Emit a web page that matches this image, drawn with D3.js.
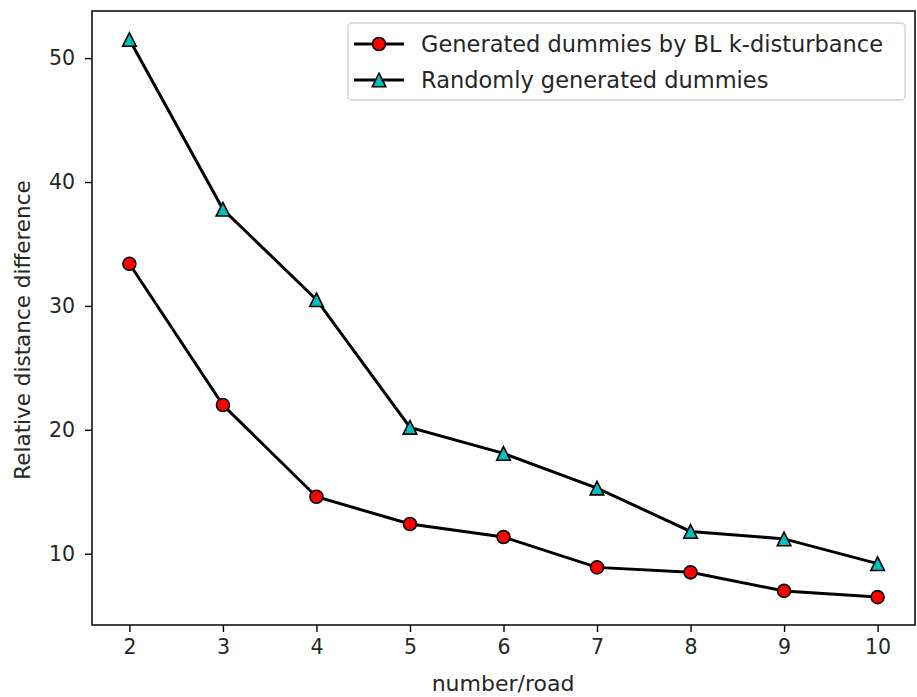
<!DOCTYPE html>
<meta charset="utf-8">
<head>
  <title>Relative distance difference</title>
</head>
<style>
body { margin: 0; background: #fff; }
text {
  font-family: "DejaVu Sans", sans-serif;
  fill: #262626;
}
.axis text { font-size: 20.5px; fill: #262626; }
.axis path, .axis line { stroke: #000; stroke-width: 1.4px; }
</style>
<body>
<svg width="917" height="697"></svg>
<script src="https://cdnjs.cloudflare.com/ajax/libs/d3/7.8.5/d3.min.js"></script>
<script>
var roads = [2, 3, 4, 5, 6, 7, 8, 9, 10]
var blValues = [33.4, 22.0, 14.6, 12.4, 11.35, 8.9, 8.5, 7.0, 6.5]
var randomValues = [51.5, 37.8, 30.5, 20.2, 18.1, 15.3, 11.8, 11.2, 9.2]
var yTicks = [10, 20, 30, 40, 50]
var seriesNames = ['Generated dummies by BL k-disturbance', 'Randomly generated dummies']

var svg = d3.select('svg')
var plotL = 92, plotR = 915, plotT = 11, plotB = 625

var x = d3.scaleLinear().domain([1.6, 10.4]).range([plotL, plotR])
var y = d3.scaleLinear().domain([4.25, 53.8]).range([plotB, plotT])

// axes
svg.append('g')
  .attr('class', 'axis')
  .attr('transform', 'translate(0,' + plotB + ')')
  .call(d3.axisBottom(x).tickValues(roads).tickSize(7).tickPadding(7).tickSizeOuter(0))
  .call(g => g.select('.domain').remove())

svg.append('g')
  .attr('class', 'axis')
  .attr('transform', 'translate(' + plotL + ',0)')
  .call(d3.axisLeft(y).tickValues(yTicks).tickSize(7).tickPadding(10).tickSizeOuter(0))
  .call(g => g.select('.domain').remove())

svg.append('rect')
  .attr('x', plotL).attr('y', plotT)
  .attr('width', plotR - plotL).attr('height', plotB - plotT)
  .attr('fill', 'none').attr('stroke', '#000').attr('stroke-width', 1.5)

svg.append('text')
  .attr('x', 503).attr('y', 691)
  .attr('text-anchor', 'middle')
  .style('font-size', '22px')
  .text('number/road')

svg.append('text')
  .attr('transform', 'translate(30,' + 330 + ') rotate(-90)')
  .attr('text-anchor', 'middle')
  .style('font-size', '21.5px')
  .text('Relative distance difference')

var line = d3.line()
  .x(function(d, i) { return x(roads[i]) })
  .y(function(d) { return y(d) })

function drawSeries(values, marker) {
  svg.append('path')
    .datum(values)
    .attr('d', line)
    .attr('fill', 'none')
    .attr('stroke', '#000')
    .attr('stroke-width', 3)

  var g = svg.append('g')
  values.forEach(function(v, i) {
    drawMarker(g, x(roads[i]), y(v), marker)
  })
}

function drawMarker(g, cx, cy, marker) {
  if (marker === 'circle') {
    g.append('circle')
      .attr('cx', cx).attr('cy', cy).attr('r', 6.5)
      .attr('fill', '#ff0000').attr('stroke', '#000').attr('stroke-width', 1.6)
  } else {
    g.append('path')
      .attr('d', 'M0,-6.8L6.8,6.8L-6.8,6.8Z')
      .attr('transform', 'translate(' + cx + ',' + cy + ')')
      .attr('fill', '#00bfbf').attr('stroke', '#000').attr('stroke-width', 1.6)
  }
}

drawSeries(blValues, 'circle')
drawSeries(randomValues, 'triangle')

// legend
var legend = svg.append('g')
legend.append('rect')
  .attr('x', 348).attr('y', 23).attr('width', 557).attr('height', 77)
  .attr('rx', 4)
  .attr('fill', '#fff').attr('stroke', '#d0d0d0').attr('stroke-width', 1.3)

var markers = ['circle', 'triangle']
seriesNames.forEach(function(name, i) {
  var ly = 44 + i * 36
  legend.append('line')
    .attr('x1', 354).attr('x2', 404).attr('y1', ly).attr('y2', ly)
    .attr('stroke', '#000').attr('stroke-width', 3)
  drawMarker(legend, 379, ly, markers[i])
  legend.append('text')
    .attr('x', 421).attr('y', ly + 8)
    .style('font-size', '22.5px')
    .text(name)
})
</script>
</body>
</html>
